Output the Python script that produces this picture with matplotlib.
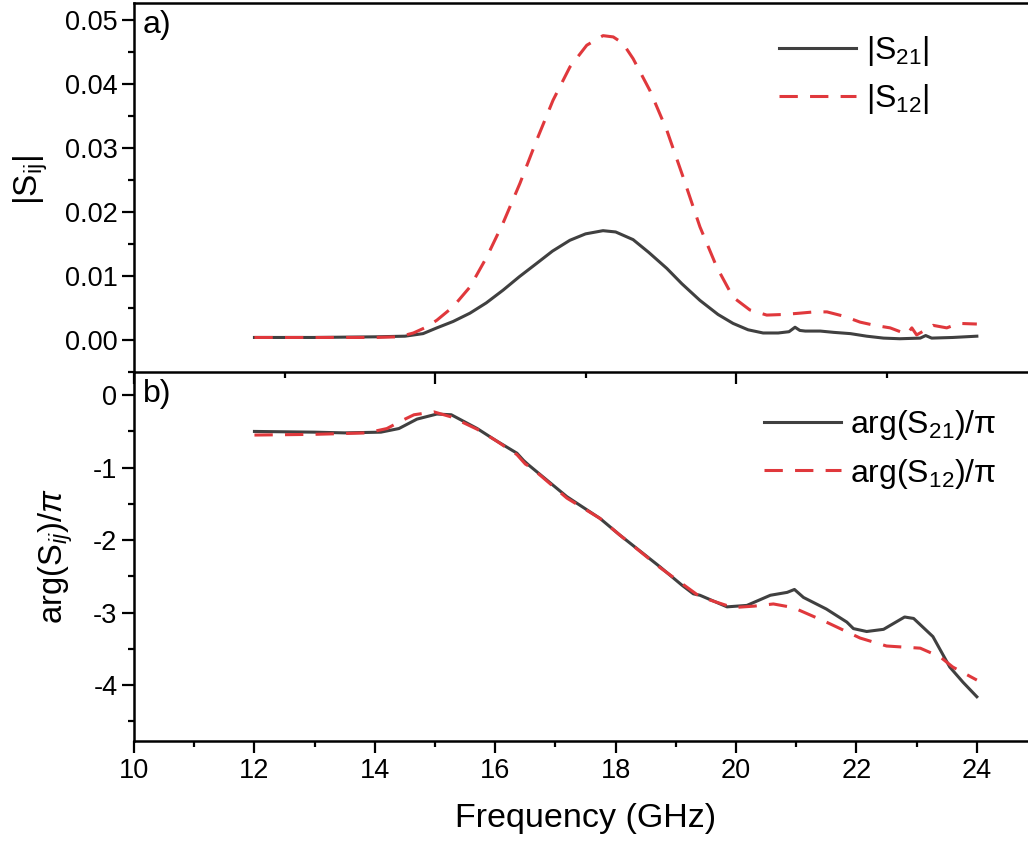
#plot.py
#|S21|, |S12| magnitude and phase vs frequency, two stacked panels

import numpy as np
import matplotlib
matplotlib.use("Agg")
import matplotlib.pyplot as plt
from matplotlib.ticker import MultipleLocator

plt.rcParams['font.family'] = ['Liberation Sans', 'DejaVu Sans']
plt.rcParams['mathtext.fontset'] = 'custom'
plt.rcParams['mathtext.rm'] = 'Liberation Sans'
plt.rcParams['mathtext.it'] = 'Liberation Sans:italic'
plt.rcParams['axes.unicode_minus'] = False

# panel a) magnitudes
f_s21 = [12.0, 13.0, 14.0, 14.5, 14.8, 15.03, 15.3, 15.58, 15.85, 16.13, 16.4, 16.69,
         16.95, 17.24, 17.5, 17.79, 18.0, 18.29, 18.55, 18.85, 19.1, 19.4, 19.7, 19.95,
         20.2, 20.45, 20.7, 20.88, 20.98, 21.06, 21.15, 21.4, 21.62, 21.9, 22.17, 22.45,
         22.72, 23.06, 23.15, 23.25, 23.6, 24.0]
mag_s21 = [0.0004, 0.0004, 0.0005, 0.0006, 0.0010, 0.0019, 0.0029, 0.0042, 0.0058, 0.0078,
           0.0099, 0.0120, 0.0139, 0.0156, 0.0166, 0.0171, 0.0169, 0.0157, 0.0137, 0.0112,
           0.0088, 0.0062, 0.0040, 0.0026, 0.0016, 0.0011, 0.0011, 0.0013, 0.0020, 0.0015,
           0.0014, 0.0014, 0.0012, 0.0010, 0.0006, 0.0003, 0.0002, 0.0003, 0.0007, 0.0003,
           0.0004, 0.0006]
f_s12 = [12.0, 13.0, 14.0, 14.4, 14.64, 14.85, 15.03, 15.3, 15.58, 15.86, 16.13, 16.41,
         16.69, 16.96, 17.24, 17.52, 17.79, 17.96, 18.12, 18.29, 18.57, 18.85, 19.12, 19.4,
         19.68, 19.95, 20.23, 20.51, 20.8, 21.06, 21.3, 21.51, 21.8, 22.06, 22.3, 22.56,
         22.84, 22.92, 23.0, 23.15, 23.27, 23.5, 23.7, 24.0]
mag_s12 = [0.0004, 0.0004, 0.0004, 0.0005, 0.0011, 0.0020, 0.0031, 0.0052, 0.0083, 0.0130,
           0.0183, 0.0245, 0.0313, 0.0375, 0.0427, 0.0461, 0.0476, 0.0474, 0.0464, 0.0440,
           0.0390, 0.0328, 0.0255, 0.0177, 0.0114, 0.0067, 0.0047, 0.0039, 0.0040, 0.0042,
           0.0044, 0.0044, 0.0037, 0.0028, 0.0023, 0.0019, 0.0009, 0.0019, 0.0008, 0.0016,
           0.0023, 0.0019, 0.0026, 0.0025]

# panel b) phases / pi
fp_s21 = [12.0, 13.0, 13.5, 14.1, 14.4, 14.7, 15.03, 15.27, 15.7, 16.0, 16.36, 16.47,
          16.55, 17.19, 17.74, 18.07, 18.74, 19.1, 19.29, 19.4, 19.85, 20.18, 20.57, 20.85,
          20.97, 21.12, 21.5, 21.84, 21.95, 22.17, 22.45, 22.8, 22.95, 23.27, 23.55, 23.77, 24.0]
ph_s21 = [-0.50, -0.51, -0.52, -0.51, -0.46, -0.33, -0.26, -0.27, -0.46, -0.62, -0.80, -0.90,
          -0.96, -1.40, -1.70, -1.93, -2.37, -2.62, -2.74, -2.76, -2.92, -2.90, -2.76, -2.72,
          -2.68, -2.79, -2.95, -3.13, -3.22, -3.26, -3.23, -3.06, -3.08, -3.33, -3.75, -3.96, -4.16]
fp_s12 = [12.0, 13.0, 13.87, 14.2, 14.45, 14.65, 14.98, 15.27, 15.7, 16.0, 16.36, 16.5, 16.6,
          17.19, 17.74, 18.07, 18.74, 19.4, 19.95, 20.3, 20.62, 20.95, 21.5, 22.06, 22.5,
          23.06, 23.39, 23.6, 24.0]
ph_s12 = [-0.55, -0.54, -0.52, -0.46, -0.35, -0.27, -0.23, -0.30, -0.47, -0.62, -0.82, -0.95,
          -1.00, -1.42, -1.70, -1.93, -2.38, -2.78, -2.93, -2.91, -2.88, -2.93, -3.13, -3.35,
          -3.46, -3.49, -3.61, -3.75, -3.93]

c_black = '#404040'
c_red = '#e0383c'

fig = plt.figure(figsize=(10.28, 8.42), dpi=100)
ax1 = fig.add_axes([0.1304, 0.5582, 0.8784, 0.4382])
ax2 = fig.add_axes([0.1304, 0.1200, 0.8784, 0.4382])
ax1.set_zorder(3)
ax1.patch.set_visible(False)

ax1.plot(f_s21, mag_s21, color=c_black, lw=2.2, label=r'$\mathregular{|S_{21}|}$')
ax1.plot(f_s12, mag_s12, color=c_red, lw=2.2, dashes=(6, 4), label=r'$\mathregular{|S_{12}|}$')
ax2.plot(fp_s21, ph_s21, color=c_black, lw=2.2, label=r'arg(S$_{21}$)/π')
ax2.plot(fp_s12, ph_s12, color=c_red, lw=2.2, dashes=(6, 4), label=r'arg(S$_{12}$)/π')

for ax in (ax1, ax2):
    ax.set_xlim(10, 25)
    for s in ax.spines.values():
        s.set_linewidth(1.8)
    ax.tick_params(which='major', direction='out', length=8.5, width=1.6, labelsize=19.5)
    ax.tick_params(which='minor', direction='out', length=4.5, width=1.6)
    ax.tick_params(axis='x', top=False)
    ax.tick_params(axis='y', right=False)

ax1.set_ylim(-0.005, 0.0527)
ax1.yaxis.set_major_locator(MultipleLocator(0.01))
ax1.yaxis.set_minor_locator(MultipleLocator(0.005))
ax1.xaxis.set_major_locator(MultipleLocator(5))
ax1.xaxis.set_minor_locator(MultipleLocator(2.5))
ax1.tick_params(axis='x', labelbottom=False)
ax1.yaxis.set_major_formatter(plt.FormatStrFormatter('%.2f'))

ax2.set_ylim(-4.77, 0.32)
ax2.yaxis.set_major_locator(MultipleLocator(1))
ax2.yaxis.set_minor_locator(MultipleLocator(0.5))
ax2.xaxis.set_major_locator(MultipleLocator(2))
ax2.xaxis.set_minor_locator(MultipleLocator(1))
ax2.spines['top'].set_visible(False)

ax1.set_ylabel(r'$\mathregular{|S_{ij}|}$', fontsize=24)
ax1.yaxis.set_label_coords(-0.093, 0.52)
ax2.set_ylabel(r'arg(S$_{ij}$)/$\pi$', fontsize=23.5)
ax2.yaxis.set_label_coords(-0.065, 0.5)
ax2.set_xlabel('Frequency (GHz)', fontsize=24.5, labelpad=14)

ax1.text(0.01, 0.98, 'a)', transform=ax1.transAxes, fontsize=23, va='top', ha='left')
ax2.text(0.01, 0.98, 'b)', transform=ax2.transAxes, fontsize=23, va='top', ha='left')

ax1.legend(loc='upper left', bbox_to_anchor=(0.697, 0.96), frameon=False, fontsize=23,
           handlelength=2.4, handletextpad=0.3, borderpad=0, labelspacing=0.45)
ax2.legend(loc='upper left', bbox_to_anchor=(0.68, 0.945), frameon=False, fontsize=23,
           handlelength=2.4, handletextpad=0.3, borderpad=0, labelspacing=0.45)

fig.savefig('out.png', dpi=100)
